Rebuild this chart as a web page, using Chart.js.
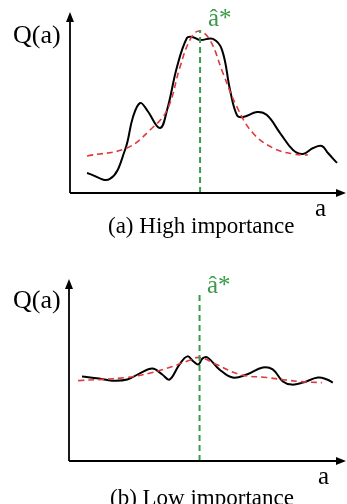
<!DOCTYPE html>
<html>
<head>
<meta charset="utf-8">
<script src="https://cdn.jsdelivr.net/npm/chart.js@4/dist/chart.umd.min.js"></script>
<style>
  body { margin: 0; background: #fff; width: 347px; height: 504px; overflow: hidden; position: relative; }
  canvas { position: absolute; left: 0; }
  .lbl { position: absolute; font-family: "Liberation Serif", "DejaVu Serif", serif; line-height: 1; white-space: nowrap; color: #000; }
  .star { color: #3a9a4a; }
</style>
</head>
<body>
<canvas id="chartHigh" width="347" height="200" style="top:0"></canvas>
<canvas id="chartLow" width="347" height="200" style="top:267px"></canvas>

<div class="lbl" style="left:13px;top:22px;font-size:26px">Q(a)</div>
<div class="lbl star" style="left:208px;top:5px;font-size:25px">â*</div>
<div class="lbl" style="left:315px;top:195px;font-size:25px">a</div>
<div class="lbl" style="left:108px;top:214px;font-size:23px">(a) High importance</div>

<div class="lbl" style="left:13px;top:287px;font-size:26px">Q(a)</div>
<div class="lbl star" style="left:207px;top:272px;font-size:25px">â*</div>
<div class="lbl" style="left:318px;top:463px;font-size:25px">a</div>
<div class="lbl" style="left:110px;top:486px;font-size:23px">(b) Low importance</div>

<script>
// (a) high importance: observed Q(a) and fitted estimate
const highX = [6.2, 14.5, 20, 22.9, 25.5, 28, 32.7, 35.3, 38.9, 42.5, 44.4, 47.3, 52, 55.3, 58.2, 60.7, 62.9, 68, 71.6, 76.4, 81.1, 84.7, 88.4, 91.6, 93.8, 97.1];
const highQ = [11.1, 7.8, 23.9, 42.2, 50, 46.1, 36.1, 46.1, 70, 86.1, 86.7, 85, 85.6, 79.4, 57.2, 43.3, 42.2, 45, 43.3, 33.3, 23.9, 21.7, 25, 26.1, 22.2, 16.7];
const highFitX = [6.2, 20.7, 29.1, 35.3, 40, 43.6, 46.9, 50.9, 55.6, 60.7, 66.5, 73.8, 81.1, 86.5];
const highFitQ = [20.6, 25, 35, 46.1, 70, 85, 90, 85, 66.7, 47.8, 33.3, 25, 21.7, 21.1];
const highStar = 47.3;
const highStarTop = 90.6;

// (b) low importance
const lowX = [4.7, 10.9, 15.6, 21.1, 25.5, 30.2, 33.8, 36.4, 40, 42.9, 45.1, 46.9, 48.4, 50.2, 54.5, 59.3, 64.4, 70.2, 73.8, 77.5, 80.7, 84.7, 90.2, 93.5, 95.6];
const lowQ = [46.7, 45.6, 44.4, 45, 48.3, 51.1, 47.8, 45, 53.3, 57.8, 55, 53.3, 56.7, 57.2, 50.6, 46.1, 47.8, 51.7, 50.6, 43.9, 42.2, 43.3, 46.1, 45, 43.3];
const lowFitX = [3.3, 20.7, 30.2, 37.5, 43.6, 47.3, 53.5, 61.8, 71.6, 83.6, 91.6];
const lowFitQ = [44.4, 46.1, 48.9, 52.2, 55.6, 57.2, 53.3, 47.8, 46.1, 43.9, 43.3];
const lowStar = 47.3;
const lowStarTop = 91.7;

function toPoints(xs, ys) {
    return xs.map((x, i) => ({ x: x, y: ys[i] }));
}

// draws the two axes with arrow heads
const arrowAxes = {
    id: 'arrowAxes',
    afterDraw(chart) {
        const ctx = chart.ctx;
        const x0 = chart.scales.x.getPixelForValue(0);
        const y0 = chart.scales.y.getPixelForValue(0);
        const yTop = chart.scales.y.getPixelForValue(100) - 1;
        const xEnd = chart.width - 1;
        ctx.save();
        ctx.strokeStyle = '#000';
        ctx.fillStyle = '#000';
        ctx.lineWidth = 1.8;
        ctx.beginPath();
        ctx.moveTo(x0, y0);
        ctx.lineTo(x0, yTop + 8);
        ctx.moveTo(x0, y0);
        ctx.lineTo(xEnd - 8, y0);
        ctx.stroke();
        ctx.beginPath();
        ctx.moveTo(x0, yTop);
        ctx.lineTo(x0 - 4, yTop + 10);
        ctx.lineTo(x0 + 4, yTop + 10);
        ctx.closePath();
        ctx.fill();
        ctx.beginPath();
        ctx.moveTo(xEnd, y0);
        ctx.lineTo(xEnd - 10, y0 - 4);
        ctx.lineTo(xEnd - 10, y0 + 4);
        ctx.closePath();
        ctx.fill();
        ctx.restore();
    }
};

function makeChart(id, xs, qs, fitX, fitQ, star, starTop, padding) {
    const ctx = document.getElementById(id).getContext('2d');
    return new Chart(ctx, {
        type: 'line',
        data: {
            datasets: [
                {
                    data: toPoints([star, star], [0, starTop]),
                    borderColor: '#3a9a4a',
                    borderWidth: 2,
                    borderDash: [6, 4],
                    pointRadius: 0,
                    tension: 0
                },
                {
                    data: toPoints(fitX, fitQ),
                    borderColor: '#e0393b',
                    borderWidth: 1.6,
                    borderDash: [6, 4],
                    pointRadius: 0,
                    tension: 0.4
                },
                {
                    data: toPoints(xs, qs),
                    borderColor: '#000',
                    borderWidth: 2,
                    pointRadius: 0,
                    tension: 0.4
                }
            ]
        },
        options: {
            responsive: false,
            animation: false,
            layout: { padding: padding },
            plugins: {
                legend: { display: false },
                tooltip: { enabled: false }
            },
            scales: {
                x: { type: 'linear', min: 0, max: 100, display: false },
                y: { min: 0, max: 100, display: false }
            }
        },
        plugins: [arrowAxes]
    });
}

makeChart('chartHigh', highX, highQ, highFitX, highFitQ, highStar, highStarTop,
    { left: 70, right: 2, top: 13, bottom: 7 });
makeChart('chartLow', lowX, lowQ, lowFitX, lowFitQ, lowStar, lowStarTop,
    { left: 69, right: 2, top: 13, bottom: 6 });
</script>
</body>
</html>
